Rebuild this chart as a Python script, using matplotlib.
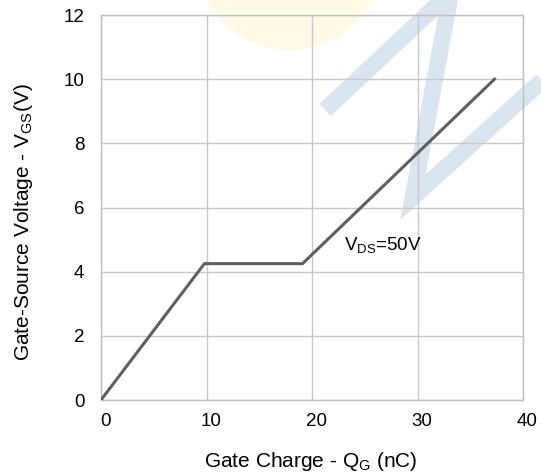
import matplotlib
matplotlib.use('Agg')
import matplotlib.pyplot as plt
from matplotlib.patches import Circle
from matplotlib.lines import Line2D
import matplotlib.transforms as mtransforms

plt.rcParams['font.family'] = ['Liberation Sans', 'DejaVu Sans']

# gate charge curve (nC, V)
qg = [0, 9.8, 19.1, 37.3]
vgs = [0, 4.25, 4.25, 10]
x_ticks = [0, 10, 20, 30, 40]
y_ticks = [0, 2, 4, 6, 8, 10, 12]

W, H = 541, 473
fig = plt.figure(figsize=(W / 100, H / 100), dpi=100)

# faint watermark behind the chart (pixel coords, y down)
def fpx(x, y):
    return x / W, 1 - y / H

circ = Circle((290, H + 44), 94, transform=None, facecolor='#fffae6',
              edgecolor='none', zorder=0)
fig.patches.append(circ)
zx = [325, 451, 413, 545]
zy = [110, -8, 197, 78]
pts = [fpx(a, b) for a, b in zip(zx, zy)]
zline = Line2D([p[0] for p in pts], [p[1] for p in pts], transform=fig.transFigure,
               color='#dae5f0', linewidth=12, solid_joinstyle='miter',
               solid_capstyle='butt', zorder=0)
fig.lines.append(zline)

ax = fig.add_axes([101 / W, 73 / H, 422 / W, 385 / H])
ax.patch.set_alpha(0)
ax.set_zorder(2)

ax.plot(qg, vgs, color='#5f5f5f', linewidth=2.2, zorder=3)

ax.set_xlim(0, 40)
ax.set_ylim(0, 12)
ax.set_xticks(x_ticks)
ax.set_yticks(y_ticks)
ax.grid(True, color='#c8c8c8', linewidth=1.0)
ax.set_axisbelow(True)
for s in ax.spines.values():
    s.set_color('#c0c0c0')
    s.set_linewidth(1.0)
ax.tick_params(length=0, labelsize=13.5, colors='#000000')
ax.tick_params(axis='x', pad=9)
ax.tick_params(axis='y', pad=12)
off = mtransforms.ScaledTranslation(4.5 / 100, 0, fig.dpi_scale_trans)
for lab in ax.get_xticklabels():
    lab.set_transform(lab.get_transform() + off)

ax.text(23.0, 4.65, r'V$_{\mathregular{DS}}$=50V', fontsize=13.5)

fig.text(311 / W, 1 - 461 / H, r'Gate Charge - Q$_{\mathregular{G}}$ (nC)',
         fontsize=15, ha='center', va='center')
fig.text(24 / W, 1 - 222 / H, r'Gate-Source Voltage - V$_{\mathregular{GS}}$(V)',
         fontsize=15, ha='center', va='center', rotation=90)

fig.savefig('out.png', dpi=100)
